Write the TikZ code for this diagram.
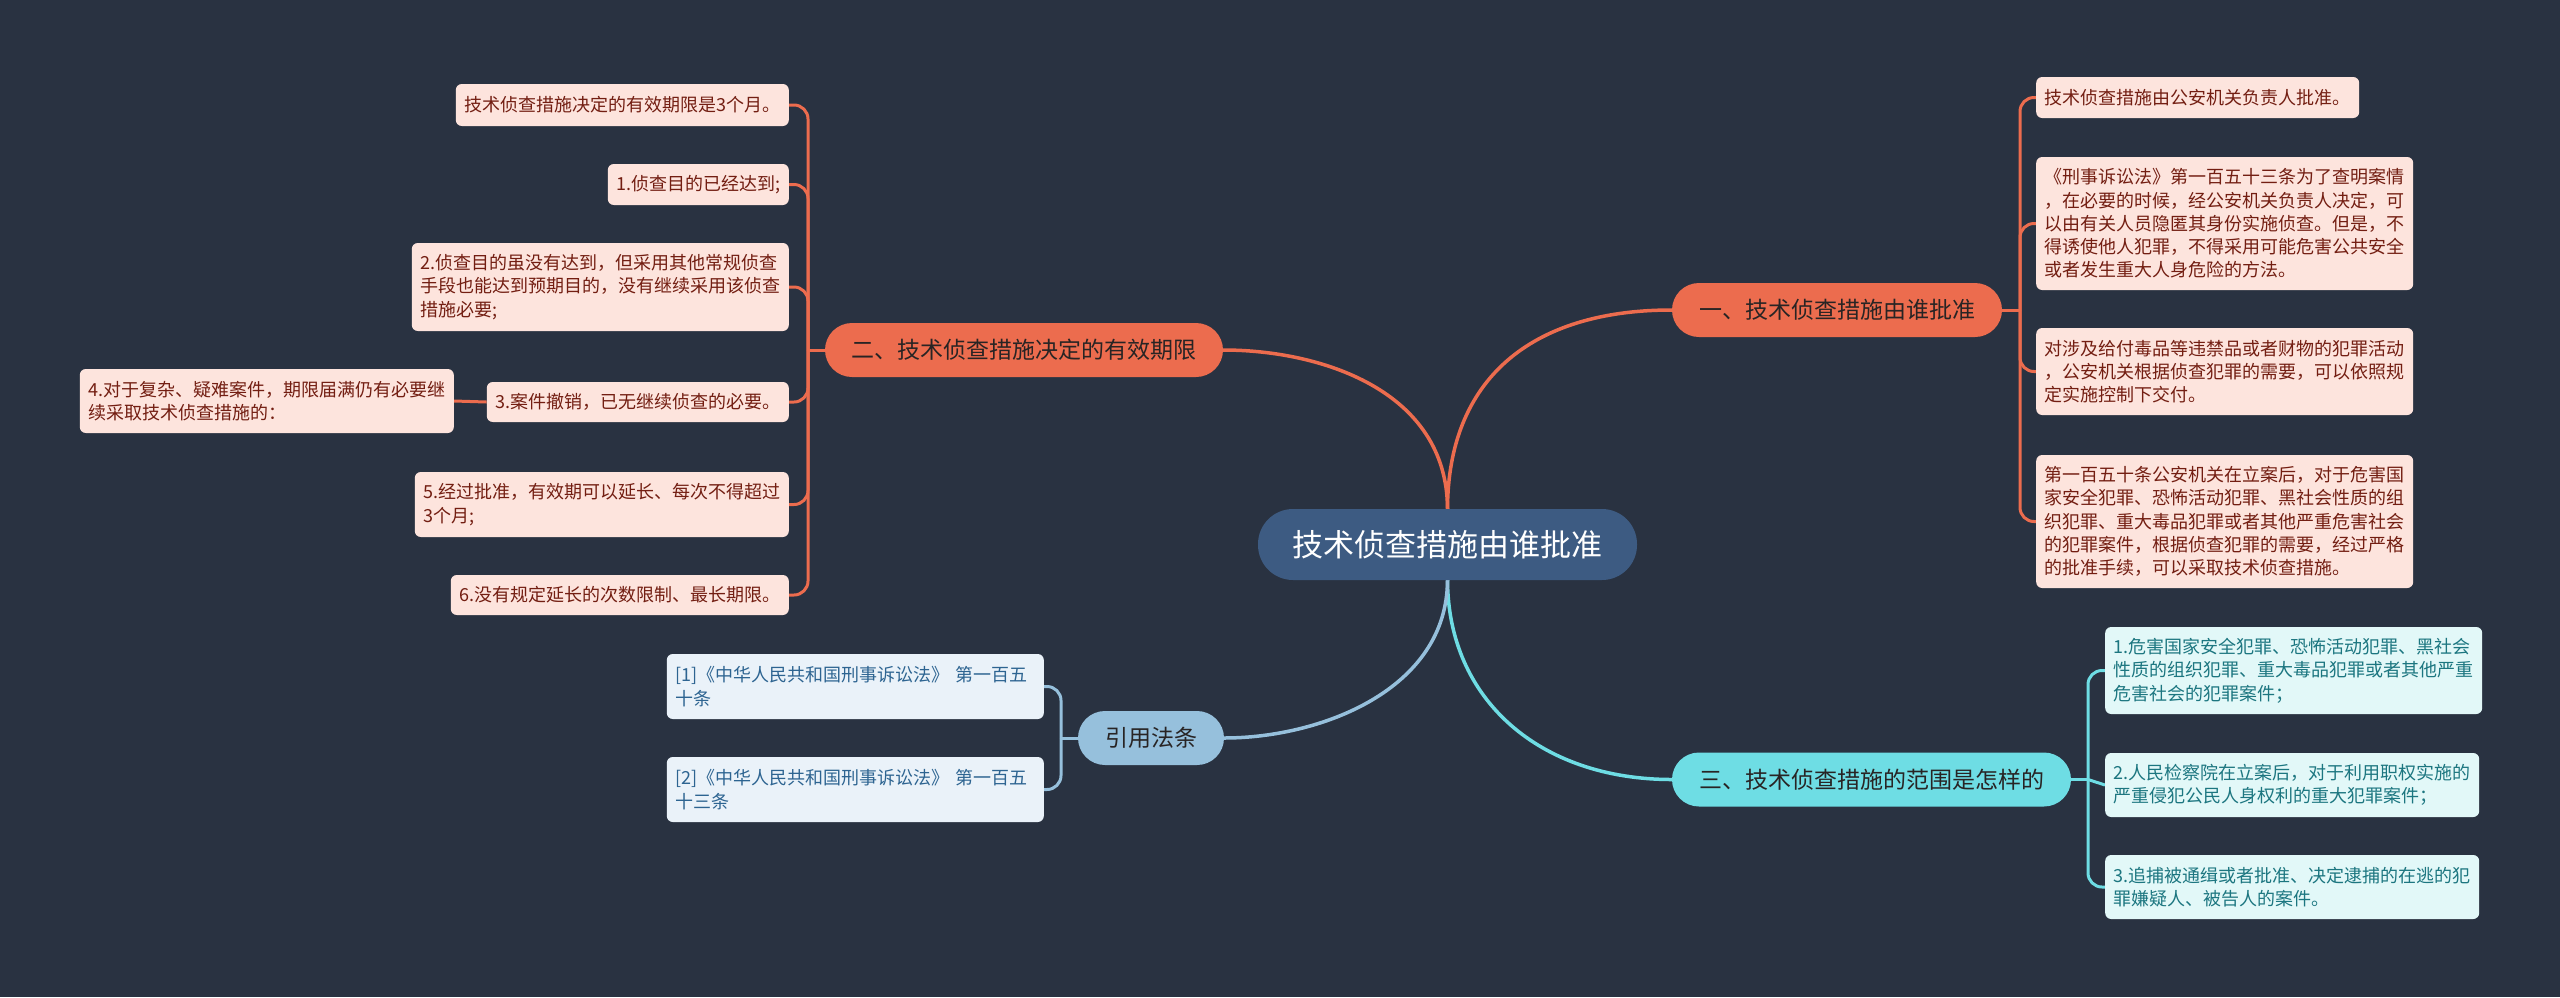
\documentclass[tikz,border=0pt]{standalone}
\usepackage{fontspec}
\setmainfont{Noto Sans CJK SC}
\definecolor{bgc}{RGB}{41,50,65}
\definecolor{ctrfill}{RGB}{61,91,130}
\definecolor{orng}{RGB}{236,108,78}
\definecolor{oleaf}{RGB}{253,228,221}
\definecolor{otext}{RGB}{115,30,18}
\definecolor{cyn}{RGB}{110,221,228}
\definecolor{cleaf}{RGB}{226,248,248}
\definecolor{ctext}{RGB}{28,118,128}
\definecolor{lblu}{RGB}{150,192,220}
\definecolor{bleaf}{RGB}{234,242,249}
\definecolor{btext}{RGB}{45,100,145}
\definecolor{darktext}{RGB}{40,36,36}
\pgfdeclarelayer{bglayer}
\pgfdeclarelayer{edges}
\pgfsetlayers{bglayer,edges,main}
\tikzset{
  leafbase/.style={rectangle, rounded corners=6pt, inner xsep=8.5pt, inner ysep=0pt, align=left,
    font=\fontsize{18}{23.3}\selectfont},
  leafO/.style={leafbase, fill=oleaf, text=otext},
  leafC/.style={leafbase, fill=cleaf, text=ctext},
  leafB/.style={leafbase, fill=bleaf, text=btext, text width=360pt},
  branchbase/.style={rectangle, rounded corners=27pt, minimum height=54pt, inner xsep=0pt,
    font=\fontsize{23}{28}\selectfont},
  mainline/.style={line width=3.5pt, line cap=round},
  leafline/.style={line width=3pt, rounded corners=14pt},
}
\begin{document}
\begin{tikzpicture}[x=1pt,y=-1pt]
\begin{pgfonlayer}{bglayer}
\fill[bgc] (0,0) rectangle (2560,997);
\end{pgfonlayer}
\useasboundingbox (0,0) rectangle (2560,997);

% center
\node[rectangle, rounded corners=35pt, fill=ctrfill, text=white, minimum width=379pt, minimum height=71pt,
  font=\fontsize{31}{36}\selectfont] (ctr) at (1447.5,544.5) {技术侦查措施由谁批准};

% branches
\node[branchbase, fill=orng, text=darktext, minimum width=330pt] (b1) at (1837,310) {一、技术侦查措施由谁批准};
\node[branchbase, fill=orng, text=darktext, minimum width=398pt] (b2) at (1024,350) {二、技术侦查措施决定的有效期限};
\node[branchbase, fill=cyn, text=darktext, minimum width=399pt] (b3) at (1871.5,779.5) {三、技术侦查措施的范围是怎样的};
\node[branchbase, fill=lblu, text=darktext, minimum width=146pt] (b4) at (1151,738) {引用法条};

% junctions
\coordinate (j1) at (2020,310);
\coordinate (j2) at (808,350);
\coordinate (j3) at (2088,779.5);
\coordinate (j4) at (1061,738);

% branch 1 leaves
\node[leafO, anchor=west, minimum height=41pt] (c1) at (2036,97.5) {技术侦查措施由公安机关负责人批准。};
\node[leafO, anchor=west, minimum height=133pt] (c2) at (2036,223.5) {《刑事诉讼法》第一百五十三条为了查明案情\\，在必要的时候，经公安机关负责人决定，可\\以由有关人员隐匿其身份实施侦查。但是，不\\得诱使他人犯罪，不得采用可能危害公共安全\\或者发生重大人身危险的方法。};
\node[leafO, anchor=west, minimum height=87pt] (c3) at (2036,371.5) {对涉及给付毒品等违禁品或者财物的犯罪活动\\，公安机关根据侦查犯罪的需要，可以依照规\\定实施控制下交付。};
\node[leafO, anchor=west, minimum height=133pt] (c4) at (2036,521.5) {第一百五十条公安机关在立案后，对于危害国\\家安全犯罪、恐怖活动犯罪、黑社会性质的组\\织犯罪、重大毒品犯罪或者其他严重危害社会\\的犯罪案件，根据侦查犯罪的需要，经过严格\\的批准手续，可以采取技术侦查措施。};

% branch 2 leaves
\node[leafO, anchor=east, minimum height=42pt] (l1) at (789,105) {技术侦查措施决定的有效期限是3个月。};
\node[leafO, anchor=east, minimum height=41pt] (l2) at (789,184.5) {1.侦查目的已经达到;};
\node[leafO, anchor=east, minimum height=88pt] (l3) at (789,287) {2.侦查目的虽没有达到，但采用其他常规侦查\\手段也能达到预期目的，没有继续采用该侦查\\措施必要;};
\node[leafO, anchor=east, minimum height=40pt] (l4) at (789,402) {3.案件撤销，已无继续侦查的必要。};
\node[leafO, anchor=east, minimum height=64pt] (l4a) at (454,401) {4.对于复杂、疑难案件，期限届满仍有必要继\\续采取技术侦查措施的：};
\node[leafO, anchor=east, minimum height=65pt] (l5) at (789,504.5) {5.经过批准，有效期可以延长、每次不得超过\\3个月;};
\node[leafO, anchor=east, minimum height=40pt] (l6) at (789,595) {6.没有规定延长的次数限制、最长期限。};

% branch 3 leaves
\node[leafC, anchor=west, minimum height=87pt] (t1) at (2105,670.5) {1.危害国家安全犯罪、恐怖活动犯罪、黑社会\\性质的组织犯罪、重大毒品犯罪或者其他严重\\危害社会的犯罪案件；};
\node[leafC, anchor=west, minimum height=64pt] (t2) at (2105,785) {2.人民检察院在立案后，对于利用职权实施的\\严重侵犯公民人身权利的重大犯罪案件；};
\node[leafC, anchor=west, minimum height=64pt] (t3) at (2105,887) {3.追捕被通缉或者批准、决定逮捕的在逃的犯\\罪嫌疑人、被告人的案件。};

% branch 4 leaves
\node[leafB, anchor=east, minimum height=65pt] (r1) at (1044,686.5) {[1]《中华人民共和国刑事诉讼法》 第一百五\\十条};
\node[leafB, anchor=east, minimum height=65pt] (r2) at (1044,789.5) {[2]《中华人民共和国刑事诉讼法》 第一百五\\十三条};

\begin{pgfonlayer}{edges}
% center to branches
\draw[mainline, orng] (ctr.north) .. controls (1448,380) and (1530,310) .. (b1.west);
\draw[mainline, orng] (ctr.north) .. controls (1447,390) and (1320,350) .. (b2.east);
\draw[mainline, cyn] (ctr.south) .. controls (1448,700) and (1540,779.5) .. (b3.west);
\draw[mainline, lblu] (ctr.south) .. controls (1447,690) and (1320,738) .. (b4.east);

% branch 1
\draw[leafline, orng] (b1.east) -- (j1);
\foreach \n in {c1,c2,c3,c4} \draw[leafline, orng] (j1) |- (\n.west);
% branch 2
\draw[leafline, orng] (b2.west) -- (j2);
\foreach \n in {l1,l2,l3,l4,l5,l6} \draw[leafline, orng] (j2) |- (\n.east);
\draw[leafline, orng] (l4.west) -- (l4a.east);
% branch 3
\draw[leafline, cyn] (b3.east) -- (j3);
\foreach \n in {t1,t3} \draw[leafline, cyn] (j3) |- (\n.west);
\draw[leafline, cyn] (j3) -- (t2.west);
% branch 4
\draw[leafline, lblu] (b4.west) -- (j4);
\foreach \n in {r1,r2} \draw[leafline, lblu] (j4) |- (\n.east);
\end{pgfonlayer}
\end{tikzpicture}
\end{document}
